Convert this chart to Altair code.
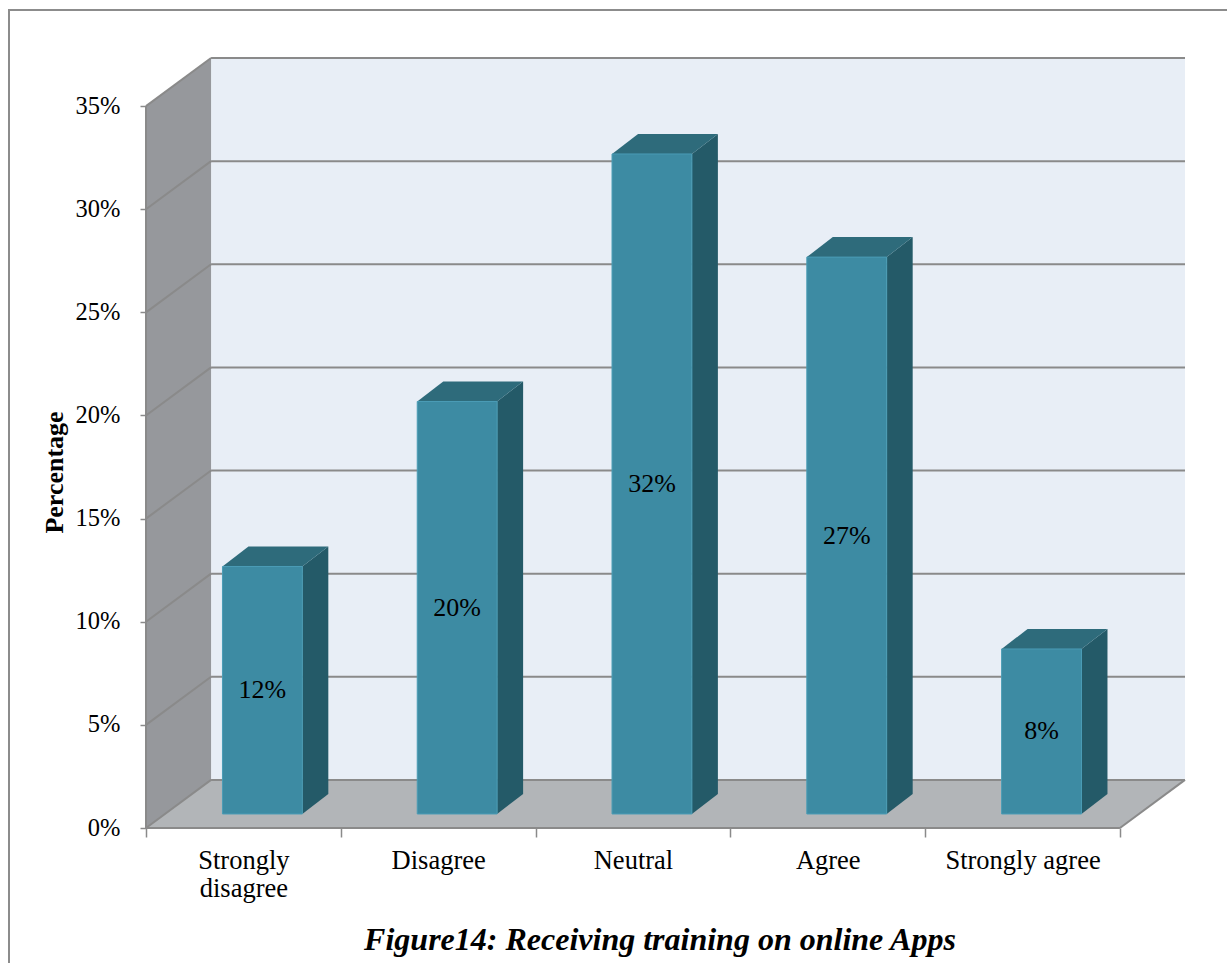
import altair as alt
import pandas as pd

# ---- data ----
categories = ["Strongly disagree", "Disagree", "Neutral", "Agree", "Strongly agree"]
axis_labels = ["Strongly|disagree", "Disagree", "Neutral", "Agree", "Strongly agree"]
values = [12, 20, 32, 27, 8]
y_ticks = [0, 5, 10, 15, 20, 25, 30, 35]
x_ticks = [0, 0.5, 1, 1.5, 2, 2.5, 3, 3.5, 4, 4.5, 5]
title_text = ["Figure14: Receiving training on online Apps"]

# ---- 3D styling constants (in scale units) ----
N = len(categories)
YMAX = 35
DX, DY = 0.334, 2.333        # depth of the back wall
BX, BY = 0.0975, 0.68        # bars sit half way into the depth
HALF = 0.205                 # half bar width
BDX, BDY = 0.1335, 0.97      # bar depth
W, H = 1039, 770

xs = alt.Scale(domain=[0, N + DX], nice=False, zero=False)
ys = alt.Scale(domain=[0, YMAX + DY], nice=False, zero=False)
FONT = "Liberation Serif"
GRID = "#8a8a8a"

# bars
bars = pd.DataFrame({
    "category": categories,
    "value": values,
})
bars["i"] = range(N)
bars["x0"] = bars["i"] + 0.5 - HALF + BX
bars["x1"] = bars["i"] + 0.5 + HALF + BX
bars["y0"] = BY
bars["y1"] = bars["value"] + BY
bars["xm"] = bars["i"] + 0.5 + BX
bars["ym"] = (bars["y0"] + bars["y1"]) / 2
bars["label"] = bars["value"].astype(str) + "%"

side_rows, top_rows = [], []
for r in bars.to_dict("records"):
    side_rows.append({"category": r["category"], "x": r["x1"], "y": r["y0"], "y2": r["y1"]})
    side_rows.append({"category": r["category"], "x": r["x1"] + BDX, "y": r["y0"] + BDY, "y2": r["y1"] + BDY})
    top_rows.append({"category": r["category"], "y": r["y1"], "x": r["x0"], "x2": r["x1"]})
    top_rows.append({"category": r["category"], "y": r["y1"] + BDY, "x": r["x0"] + BDX, "x2": r["x1"] + BDX})
side = pd.DataFrame(side_rows)
top = pd.DataFrame(top_rows)

# walls
back = pd.DataFrame({"x": [DX], "x2": [N + DX], "y": [DY], "y2": [YMAX + DY]})
leftwall = pd.DataFrame({"x": [0, DX], "y": [0, DY], "y2": [YMAX, YMAX + DY]})
floor = pd.DataFrame({"y": [0, DY], "x": [0, DX], "x2": [N, N + DX]})

grid_rows = []
for v in y_ticks:
    grid_rows.append({"x": 0, "y": v, "x2": DX, "y2": v + DY})
    grid_rows.append({"x": DX, "y": v + DY, "x2": N + DX, "y2": v + DY})
grid = pd.DataFrame(grid_rows)

edges = pd.DataFrame([
    {"x": N, "y": 0, "x2": N + DX, "y2": DY},      # floor right edge
    {"x": 0, "y": 0, "x2": N, "y2": 0},            # front floor edge
    {"x": 0, "y": 0, "x2": 0, "y2": YMAX},         # front wall edge
])

one = pd.DataFrame({"a": [0]})
title_df = pd.DataFrame({"t": title_text})

label_expr = ("datum.value % 1 == 0.5 ? split(" + str(axis_labels).replace('"', "'")
              + "[floor(datum.value)], '|') : ''")

XAXIS = alt.Axis(
    values=x_ticks, labelExpr=label_expr, domain=False, grid=False, title=None,
    tickSize=9, tickWidth=1.5, tickColor=GRID,
    tickOpacity={"condition": {"test": "datum.value % 1 != 0", "value": 0}, "value": 1},
    labelFont=FONT, labelFontSize=26.5, labelColor="black", labelPadding=10,
    labelLineHeight=28, labelAngle=0, labelOverlap=False)

YAXIS = alt.Axis(
    values=y_ticks, labelExpr="datum.value + '%'", domain=False, grid=False,
    tickSize=6, tickWidth=1.5, tickColor=GRID,
    labelFont=FONT, labelFontSize=24.5, labelColor="black", labelPadding=20,
    title="Percentage", titleFont=FONT, titleFontSize=26, titleFontWeight="bold",
    titleColor="black", titleAngle=-90, titleBaseline="bottom",
    titleX=-79, titleY=414)


def X(f):
    return alt.X(f, type="quantitative", scale=xs, axis=XAXIS)


def Y(f):
    return alt.Y(f, type="quantitative", scale=ys, axis=YAXIS)


frame = alt.Chart(one).mark_rect(fill="transparent", stroke="#8c8c8c", strokeWidth=2).encode(
    x=alt.value(-137), x2=alt.value(1120), y=alt.value(-48), y2=alt.value(940)
)

back_l = alt.Chart(back).mark_rect(color="#e8eef6").encode(
    x=X("x"), x2="x2", y=Y("y"), y2="y2")

left_l = alt.Chart(leftwall).mark_area(color="#96989c", orient="vertical").encode(
    x=X("x"), y=Y("y"), y2="y2")

floor_l = alt.Chart(floor).mark_area(color="#b2b5b8", orient="horizontal").encode(
    y=Y("y"), x=X("x"), x2="x2")

grid_l = alt.Chart(grid).mark_rule(color=GRID, strokeWidth=2).encode(
    x=X("x"), x2="x2", y=Y("y"), y2="y2")

edge_l = alt.Chart(edges).mark_rule(color=GRID, strokeWidth=2).encode(
    x=X("x"), x2="x2", y=Y("y"), y2="y2")

side_l = alt.Chart(side).mark_area(color="#245a68", orient="vertical").encode(
    x=X("x"), y=Y("y"), y2="y2", detail="category:N")

top_l = alt.Chart(top).mark_area(color="#2e6b7b", orient="horizontal").encode(
    y=Y("y"), x=X("x"), x2="x2", detail="category:N")

front_l = alt.Chart(bars).mark_rect(color="#3d8ba3", stroke="#4a9cb5", strokeWidth=1).encode(
    x=X("x0"), x2="x1", y=Y("y0"), y2="y1")

text_l = alt.Chart(bars).mark_text(font=FONT, fontSize=26, color="black").encode(
    x=X("xm"), y=Y("ym"), text="label:N")

title_l = alt.Chart(title_df).mark_text(
    font=FONT, fontSize=32, fontWeight="bold", fontStyle="italic", color="black",
    align="center", baseline="alphabetic"
).encode(x=alt.value(514), y=alt.value(892), text="t:N")

chart = alt.layer(
    frame, back_l, left_l, floor_l, grid_l, edge_l, side_l, top_l, front_l, text_l, title_l
).properties(
    width=W, height=H,
    autosize=alt.AutoSizeParams(type="none"),
    padding={"left": 146, "top": 58, "right": 42, "bottom": 135},
    background="white",
).configure_view(stroke=None)

chart.save("out.html", embed_options={"renderer": "svg", "actions": False})
